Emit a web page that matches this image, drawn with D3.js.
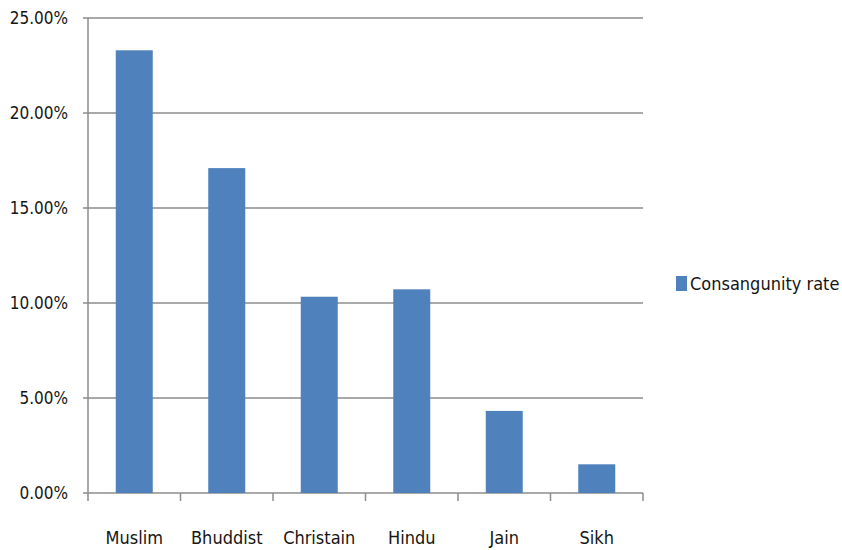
<!DOCTYPE html>
<html>
<head>
<meta charset="utf-8">
<script src="https://cdn.jsdelivr.net/npm/d3@7"></script>
<style>
  body { margin: 0; background: #fff; }
  text { font-family: 'Liberation Sans Narrow', 'DejaVu Sans Condensed', sans-serif; fill: #151515; }
</style>
</head>
<body>
<div id="chart"></div>
<script>
const religions = ['Muslim', 'Bhuddist', 'Christain', 'Hindu', 'Jain', 'Sikh'];
const rates = [23.3, 17.1, 10.33, 10.72, 4.32, 1.51];
const yTicks = [0, 5, 10, 15, 20, 25];
const seriesName = 'Consangunity rate';

const width = 842, height = 550;
const margin = { top: 18, right: 199, bottom: 57, left: 88 };
const color = '#4f81bd';

const svg = d3.select('#chart')
  .append('svg')
  .attr('width', width)
  .attr('height', height);

const x = d3.scaleBand()
  .domain(religions)
  .range([margin.left, width - margin.right])
  .paddingInner(0.6)
  .paddingOuter(0.3);

const y = d3.scaleLinear()
  .domain([0, 25])
  .range([height - margin.bottom, margin.top]);

// gridlines
svg.append('g')
  .selectAll('line')
  .data(yTicks)
  .enter()
  .append('line')
  .attr('x1', margin.left - 5)
  .attr('x2', width - margin.right)
  .attr('y1', d => y(d))
  .attr('y2', d => y(d))
  .attr('stroke', '#8c8c8c')
  .attr('stroke-width', 1.5);

// y axis line
svg.append('line')
  .attr('x1', margin.left).attr('x2', margin.left)
  .attr('y1', y(25)).attr('y2', y(0))
  .attr('stroke', '#8c8c8c')
  .attr('stroke-width', 1.5);

// y labels
svg.append('g')
  .selectAll('text')
  .data(yTicks)
  .enter()
  .append('text')
  .attr('x', margin.left - 20)
  .attr('y', d => y(d))
  .attr('dy', '0.35em')
  .attr('text-anchor', 'end')
  .style('font-size', '17px')
  .text(d => d3.format('.2f')(d) + '%');

// category tick marks below axis
svg.append('g')
  .selectAll('line')
  .data(d3.range(religions.length + 1))
  .enter()
  .append('line')
  .attr('x1', i => margin.left + i * (width - margin.right - margin.left) / religions.length)
  .attr('x2', i => margin.left + i * (width - margin.right - margin.left) / religions.length)
  .attr('y1', y(0))
  .attr('y2', y(0) + 8)
  .attr('stroke', '#8c8c8c')
  .attr('stroke-width', 1.5);

// bars
svg.append('g')
  .selectAll('rect')
  .data(rates)
  .enter()
  .append('rect')
  .attr('x', (d, i) => x(religions[i]))
  .attr('y', d => y(d))
  .attr('width', x.bandwidth())
  .attr('height', d => y(0) - y(d))
  .attr('fill', color);

// x labels
svg.append('g')
  .selectAll('text')
  .data(religions)
  .enter()
  .append('text')
  .attr('x', d => x(d) + x.bandwidth() / 2)
  .attr('y', y(0) + 51)
  .attr('text-anchor', 'middle')
  .style('font-size', '18px')
  .text(d => d);

// legend
const legend = svg.append('g').attr('transform', 'translate(676,276)');
legend.append('rect')
  .attr('width', 11)
  .attr('height', 15)
  .attr('fill', color);
legend.append('text')
  .attr('x', 14)
  .attr('y', 8)
  .attr('dy', '0.35em')
  .style('font-size', '18px')
  .text(seriesName);
</script>
</body>
</html>
